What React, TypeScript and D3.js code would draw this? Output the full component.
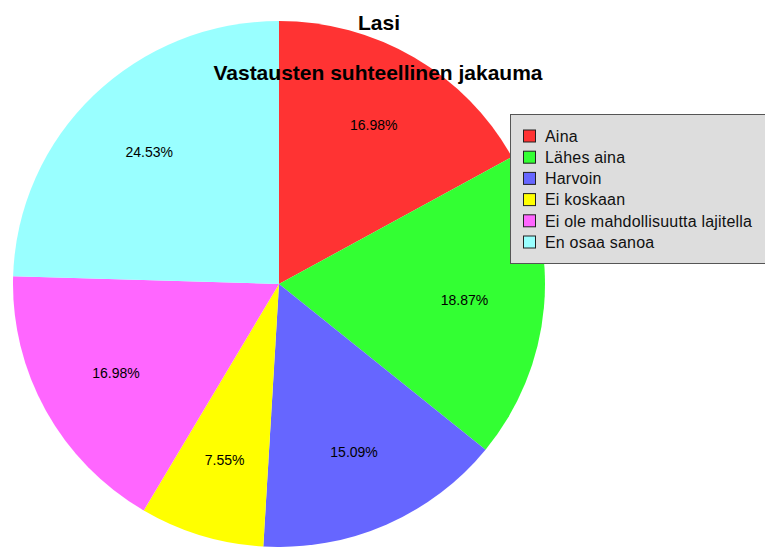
import React from "react";
import * as d3 from "d3";

const categories = ["Aina", "Lähes aina", "Harvoin", "Ei koskaan", "Ei ole mahdollisuutta lajitella", "En osaa sanoa"];
const values = [16.98, 18.87, 15.09, 7.55, 16.98, 24.53];
const colors = ["#ff3333", "#33ff33", "#6666ff", "#ffff00", "#ff66ff", "#99ffff"];
const title = "Lasi";
const subtitle = "Vastausten suhteellinen jakauma";

export default function App() {
  const W = 765, H = 547;
  const cx = 279, cy = 284, rx = 266, ry = 263;
  const pie = d3.pie<number>().sort(null).value((d) => d)(values);
  const arc = d3.arc<d3.PieArcDatum<number>>().innerRadius(0).outerRadius(rx);
  const lr = 0.7;
  const legendRows = d3.range(categories.length);
  const rowY = d3.scaleLinear().domain([0, 1]).range([136, 157.2]);
  return (
    <svg width={W} height={H} style={{ position: "absolute", left: 0, top: 0, background: "#fff" }}>
      <rect x={0} y={0} width={W} height={H} fill="#fff" />
      <g transform={`translate(${cx},${cy}) scale(1,${ry / rx})`}>
        {pie.map((p, i) => (
          <path key={i} d={arc(p) || ""} fill={colors[i]} />
        ))}
      </g>
      {pie.map((p, i) => {
        const a = (p.startAngle + p.endAngle) / 2;
        const x = cx + Math.sin(a) * rx * lr;
        const y = cy - Math.cos(a) * ry * lr;
        return (
          <text key={i} x={x} y={y} dy="0.33em" textAnchor="middle" fontFamily="Liberation Sans, Arial, sans-serif" fontSize={14} fill="#000">
            {values[i].toFixed(2)}%
          </text>
        );
      })}
      <text x={379} y={30} textAnchor="middle" fontFamily="Liberation Sans, Arial, sans-serif" fontWeight="bold" fontSize={21} fill="#000">{title}</text>
      <text x={378} y={80} textAnchor="middle" fontFamily="Liberation Sans, Arial, sans-serif" fontWeight="bold" fontSize={21} fill="#000">{subtitle}</text>
      <rect x={510.5} y={114.5} width={300} height={149} fill="#dddddd" stroke="#555555" strokeWidth={1} />
      {legendRows.map((i) => {
        const y = rowY(i);
        return (
          <g key={i}>
            <rect x={523.5} y={y - 6} width={12} height={12} fill={colors[i]} stroke="#222" strokeWidth={1} />
            <text x={545} y={y} dy="0.36em" fontFamily="Liberation Sans, Arial, sans-serif" fontSize={16} letterSpacing={0.2} fill="#111">{categories[i]}</text>
          </g>
        );
      })}
    </svg>
  );
}
